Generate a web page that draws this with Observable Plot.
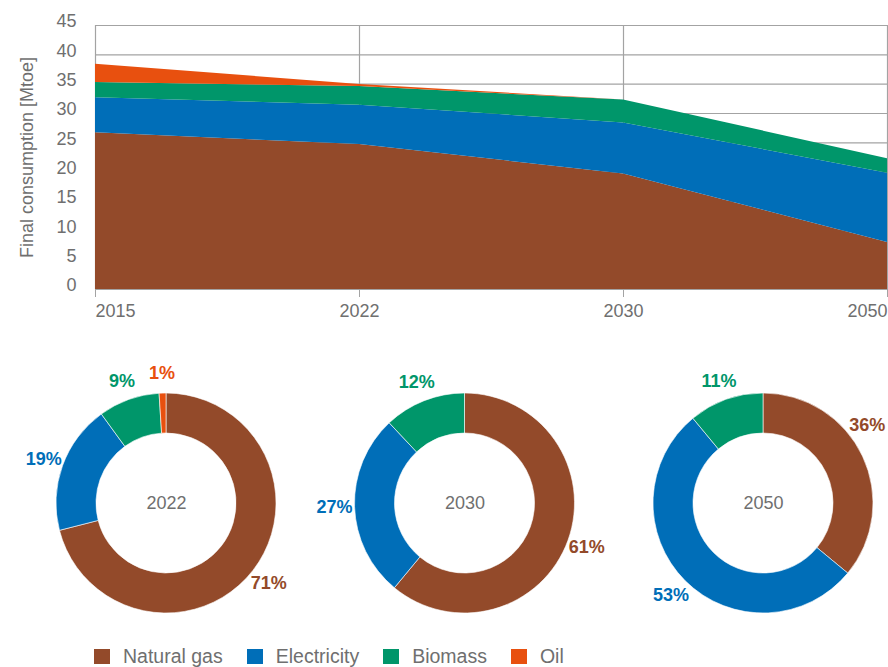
<!DOCTYPE html>
<html><head><meta charset="utf-8">
<script src="https://cdn.jsdelivr.net/npm/d3@7"></script>
<script src="https://cdn.jsdelivr.net/npm/@observablehq/plot@0.6"></script>
<style>
body{margin:0;background:#fff;font-family:"Liberation Sans",Arial,sans-serif;}
#wrap{position:relative;width:888px;height:667px;overflow:hidden;}
svg{display:block}
#legend{position:absolute;left:94px;top:649px;display:flex;align-items:center;font-size:19.5px;color:#6f6f6f;line-height:15px;}
#legend .item{display:flex;align-items:center;margin-right:24px;}
#legend .sw{width:16px;height:15px;margin-right:13px;}
</style></head><body><div id="wrap"></div>
<script>
// ---- data ----
const years = ["2015", "2022", "2030", "2050"];
const series = ["Natural gas", "Electricity", "Biomass", "Oil"];
const colors = ["#934a2a", "#006eb8", "#00966a", "#e8500f"];
const naturalGas = [26.7, 24.7, 19.7, 8.0];
const electricity = [6.0, 6.7, 8.7, 11.8];
const biomass = [2.6, 3.2, 3.9, 2.5];
const oil = [3.1, 0.35, 0, 0];
const yTicks = [0, 5, 10, 15, 20, 25, 30, 35, 40, 45];
const yLabel = "Final consumption [Mtoe]";
const donutYears = ["2022", "2030", "2050"];
const share2022 = [71, 19, 9, 1];
const share2030 = [61, 27, 12, 0];
const share2050 = [36, 53, 11, 0];

// ---- build ----
const seriesValues = [naturalGas, electricity, biomass, oil];
const areaRows = years.flatMap((yr, i) => series.map((s, j) => ({year: yr, type: s, value: seriesValues[j][i]})));
const grid = "#a3a3a3";
const textColor = "#6f6f6f";
const font = "'Liberation Sans', Arial, sans-serif";

const areaChart = Plot.plot({
  width: 888, height: 340,
  marginLeft: 95, marginRight: 1, marginTop: 25, marginBottom: 51,
  style: {fontFamily: font, fontSize: "18px", color: textColor, background: "white", overflow: "visible"},
  x: {type: "point", domain: years, padding: 0},
  y: {domain: [0, 45]},
  color: {domain: series, range: colors},
  marks: [
    Plot.ruleY(yTicks, {stroke: grid, strokeWidth: 1.2}),
    Plot.ruleX(years, {x: d => d, y1: 0, y2: 45, stroke: grid, strokeWidth: 1.2}),
    Plot.areaY(areaRows, {x: "year", y: "value", fill: "type", order: series}),
    Plot.axisY(yTicks, {tickSize: 0, tickPadding: 19, dy: -4, fontSize: 18, label: null}),
    Plot.axisX({tickSize: 8, tickFormat: () => "", stroke: grid, label: null}),
    Plot.text([years[0]], {x: d => d, frameAnchor: "bottom", dy: 27, textAnchor: "start", fontSize: 18}),
    Plot.text(years.slice(1, -1), {x: d => d, frameAnchor: "bottom", dy: 27, textAnchor: "middle", fontSize: 18}),
    Plot.text([years[years.length - 1]], {x: d => d, frameAnchor: "bottom", dy: 27, textAnchor: "end", fontSize: 18}),
    Plot.text([yLabel], {frameAnchor: "left", rotate: -90, dx: -68, textAnchor: "middle", fontSize: 18})
  ]
});

const donutShares = [share2022, share2030, share2050];
const outerR = 110, innerR = 70, labelR = 130;

function donutMark(index, scales, values, dimensions) {
  const g = d3.create("svg:g");
  const W = dimensions.width;
  donutShares.forEach((shares, i) => {
    const cx = scales.x(i), cy = scales.y(0);
    const items = shares.map((v, j) => ({value: v, type: series[j], color: colors[j]}));
    const arcs = d3.pie().sort(null).value(d => d.value)(items);
    const arc = d3.arc().innerRadius(innerR).outerRadius(outerR);
    const gg = g.append("g").attr("transform", `translate(${cx},${cy})`);
    arcs.filter(a => a.data.value > 0).forEach(a => {
      gg.append("path").attr("d", arc(a)).attr("fill", a.data.color).attr("stroke", "white").attr("stroke-width", 0.6);
    });
    arcs.filter(a => a.data.value > 0).forEach(a => {
      const mid = (a.startAngle + a.endAngle) / 2;
      const half = 20; // half label width
      const fits = ang => {
        const x = cx + labelR * Math.sin(ang);
        return x - half >= 0 && x + half <= W;
      };
      // slide the label along its slice until it fits inside the chart
      let m = mid;
      if (!fits(m)) {
        const step = 0.01;
        for (let d = step; d < (a.endAngle - a.startAngle) / 2; d += step) {
          if (fits(mid - d)) { m = mid - d; break; }
          if (fits(mid + d)) { m = mid + d; break; }
        }
      }
      gg.append("text")
        .attr("x", labelR * Math.sin(m))
        .attr("y", -labelR * Math.cos(m))
        .attr("text-anchor", "middle")
        .attr("dominant-baseline", "central")
        .attr("font-weight", "bold")
        .attr("font-size", 18)
        .attr("fill", a.data.color)
        .text(a.data.value + "%");
    });
  });
  return g.node();
}

const donutChart = Plot.plot({
  width: 888, height: 290,
  marginLeft: 0, marginRight: 0, marginTop: 0, marginBottom: 0,
  style: {fontFamily: font, fontSize: "18px", color: textColor, background: "white", overflow: "visible"},
  x: {domain: [0, 2], range: [166, 763], axis: null},
  y: {domain: [-1, 1], range: [263, 63], axis: null},
  marks: [
    donutMark,
    Plot.text(donutYears, {x: (d, i) => i, y: () => 0, fontSize: 18, fill: textColor})
  ]
});

const wrap = document.getElementById("wrap");
wrap.appendChild(areaChart);
wrap.appendChild(donutChart);

const legend = document.createElement("div");
legend.id = "legend";
series.forEach((s, j) => {
  const it = document.createElement("div");
  it.className = "item";
  const sw = document.createElement("span");
  sw.className = "sw";
  sw.style.background = colors[j];
  const tx = document.createElement("span");
  tx.textContent = s;
  it.appendChild(sw); it.appendChild(tx);
  legend.appendChild(it);
});
wrap.appendChild(legend);
</script>
</body></html>
